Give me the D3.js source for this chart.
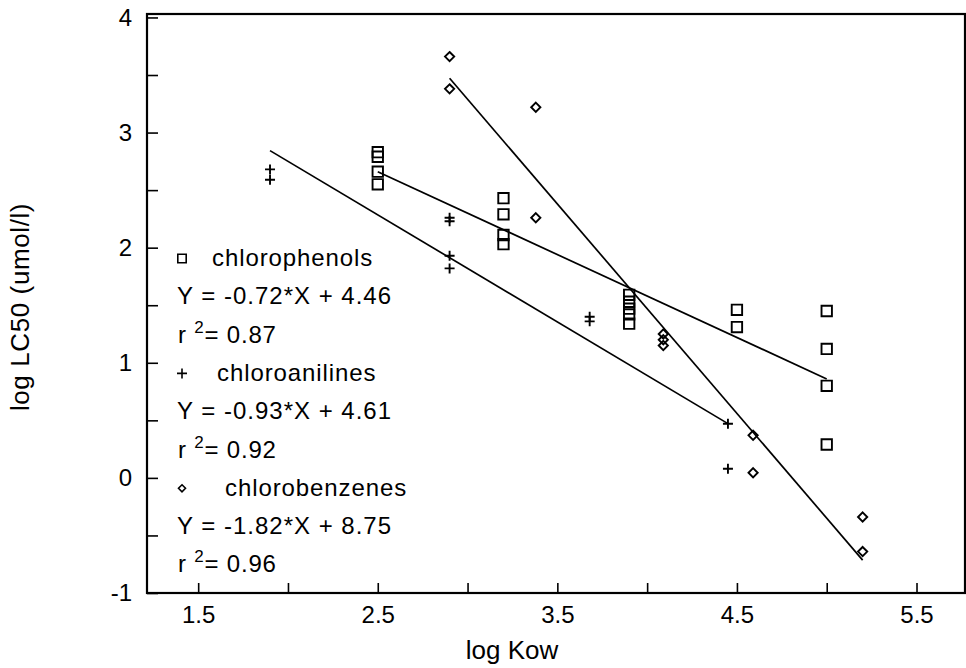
<!DOCTYPE html>
<html>
<head>
<meta charset="utf-8">
<script src="https://cdn.jsdelivr.net/npm/d3@7"></script>
<style>
  body { margin: 0; background: #fff; }
  svg text { font-family: "Liberation Sans", Arial, Helvetica, sans-serif; fill: #000; }
</style>
</head>
<body>
<div id="chart"></div>
<script>
// chlorophenols (squares)
const phenolX = [2.5, 2.5, 2.5, 2.5, 3.2, 3.2, 3.2, 3.2, 3.9, 3.9, 3.9, 3.9, 3.9, 4.5, 4.5, 5.0, 5.0, 5.0, 5.0];
const phenolY = [2.83, 2.79, 2.66, 2.55, 2.43, 2.29, 2.11, 2.03, 1.59, 1.53, 1.47, 1.42, 1.34, 1.46, 1.31, 1.45, 1.12, 0.80, 0.29];
// chloroanilines (plus)
const anilineX = [1.9, 1.9, 2.9, 2.9, 2.9, 2.9, 3.68, 3.68, 4.45, 4.45];
const anilineY = [2.68, 2.59, 2.26, 2.23, 1.93, 1.82, 1.40, 1.36, 0.47, 0.08];
// chlorobenzenes (diamonds)
const benzeneX = [2.9, 2.9, 3.38, 3.38, 4.09, 4.09, 4.09, 4.59, 4.59, 5.2, 5.2];
const benzeneY = [3.66, 3.38, 3.22, 2.26, 1.25, 1.20, 1.15, 0.37, 0.045, -0.34, -0.64];

// regression fits: slope, intercept, r2
const seriesNames = ["chlorophenols", "chloroanilines", "chlorobenzenes"];
const slopes = [-0.72, -0.93, -1.82];
const intercepts = [4.46, 4.61, 8.75];
const r2s = ["0.87", "0.92", "0.96"];

const xTicks = d3.range(1.5, 5.51, 0.5);
const xLabels = ["1.5", "2.5", "3.5", "4.5", "5.5"];
const yTicks = d3.range(-1, 4.01, 0.5);
const yLabels = ["-1", "0", "1", "2", "3", "4"];

const w = 966, h = 668;
const padL = 147, padR = 965, padT = 14, padB = 593;

const x = d3.scaleLinear().domain([1.215, 5.77]).range([padL, padR]);
const y = d3.scaleLinear().domain([-1, 4.03]).range([padB, padT]);

const svg = d3.select("#chart").append("svg")
  .attr("width", w)
  .attr("height", h);

// axes (labels only on some ticks, plain hyphen minus like the original)
const xAxis = d3.axisBottom(x)
  .tickValues(xTicks)
  .tickSizeInner(-10)
  .tickSizeOuter(0)
  .tickPadding(13)
  .tickFormat(d => xLabels.find(s => Math.abs(+s - d) < 1e-6) || "");

const yAxis = d3.axisLeft(y)
  .tickValues(yTicks)
  .tickSizeInner(-11)
  .tickSizeOuter(0)
  .tickPadding(15)
  .tickFormat(d => yLabels.find(s => Math.abs(+s - d) < 1e-6) || "");

const gx = svg.append("g")
  .attr("transform", "translate(0," + padB + ")")
  .call(xAxis);
const gy = svg.append("g")
  .attr("transform", "translate(" + padL + ",0)")
  .call(yAxis);

[gx, gy].forEach(g => {
  g.select(".domain").remove();
  g.selectAll(".tick line").attr("stroke", "#000").attr("stroke-width", 1.6);
  g.selectAll(".tick text").style("font-size", "24px").attr("fill", "#000");
});

// frame
svg.append("rect")
  .attr("x", padL)
  .attr("y", padT)
  .attr("width", padR - padL)
  .attr("height", padB - padT)
  .attr("fill", "none")
  .attr("stroke", "#000")
  .attr("stroke-width", 2.2);

// axis titles
svg.append("text")
  .attr("x", 512)
  .attr("y", 659)
  .attr("text-anchor", "middle")
  .style("font-size", "26px")
  .text("log Kow");

svg.append("text")
  .attr("transform", "translate(29,307) rotate(-90)")
  .attr("text-anchor", "middle")
  .style("font-size", "26px")
  .style("letter-spacing", "0.6px")
  .text("log LC50 (umol/l)");

// symbol paths
function squarePath(s) { return "M" + (-s) + "," + (-s) + "h" + (2 * s) + "v" + (2 * s) + "h" + (-2 * s) + "Z"; }
function plusPath(s) { return "M" + (-s) + ",0h" + (2 * s) + "M0," + (-s) + "v" + (2 * s); }
function diamondPath(s) { return "M0," + (-s) + "L" + s + ",0L0," + s + "L" + (-s) + ",0Z"; }

const symbols = [squarePath, plusPath, diamondPath];
const sizes = [5.2, 5, 4.6];
const legendSizes = [4.2, 5, 3.5];

const groups = [
  { xs: phenolX, ys: phenolY },
  { xs: anilineX, ys: anilineY },
  { xs: benzeneX, ys: benzeneY }
];

// regression lines over each group's x range
groups.forEach((g, i) => {
  const ext = d3.extent(g.xs);
  svg.append("path")
    .datum(ext)
    .attr("fill", "none")
    .attr("stroke", "#000")
    .attr("stroke-width", 1.7)
    .attr("d", d3.line()
      .x(d => x(d))
      .y(d => y(slopes[i] * d + intercepts[i])));
});

// points
groups.forEach((g, i) => {
  svg.append("g").selectAll("path")
    .data(g.xs.map((v, j) => [v, g.ys[j]]))
    .enter()
    .append("path")
    .attr("transform", d => "translate(" + x(d[0]) + "," + y(d[1]) + ")")
    .attr("d", symbols[i](sizes[i]))
    .attr("fill", "none")
    .attr("stroke", "#000")
    .attr("stroke-width", 1.9);
});

// legend inside plot
const nameX = [212, 217, 225];
seriesNames.forEach((name, i) => {
  const base = 266 + i * 114.9;
  svg.append("path")
    .attr("transform", "translate(182," + (base - 7.5) + ")")
    .attr("d", symbols[i](legendSizes[i]))
    .attr("fill", "none")
    .attr("stroke", "#000")
    .attr("stroke-width", 1.6);

  svg.append("text")
    .attr("x", nameX[i])
    .attr("y", base)
    .style("font-size", "24px")
    .style("letter-spacing", "0.9px")
    .text(name);

  svg.append("text")
    .attr("x", 177)
    .attr("y", base + 38.3)
    .style("font-size", "24px")
    .style("letter-spacing", "1px")
    .text("Y = " + slopes[i].toFixed(2) + "*X + " + intercepts[i].toFixed(2));

  const r = svg.append("text")
    .attr("x", 178)
    .attr("y", base + 76.6)
    .style("font-size", "24px")
    .style("letter-spacing", "0.8px");
  r.append("tspan").text("r ");
  r.append("tspan").attr("dy", -10).style("font-size", "17px").text("2");
  r.append("tspan").attr("dy", 10).text("= " + r2s[i]);
});
</script>
</body>
</html>
